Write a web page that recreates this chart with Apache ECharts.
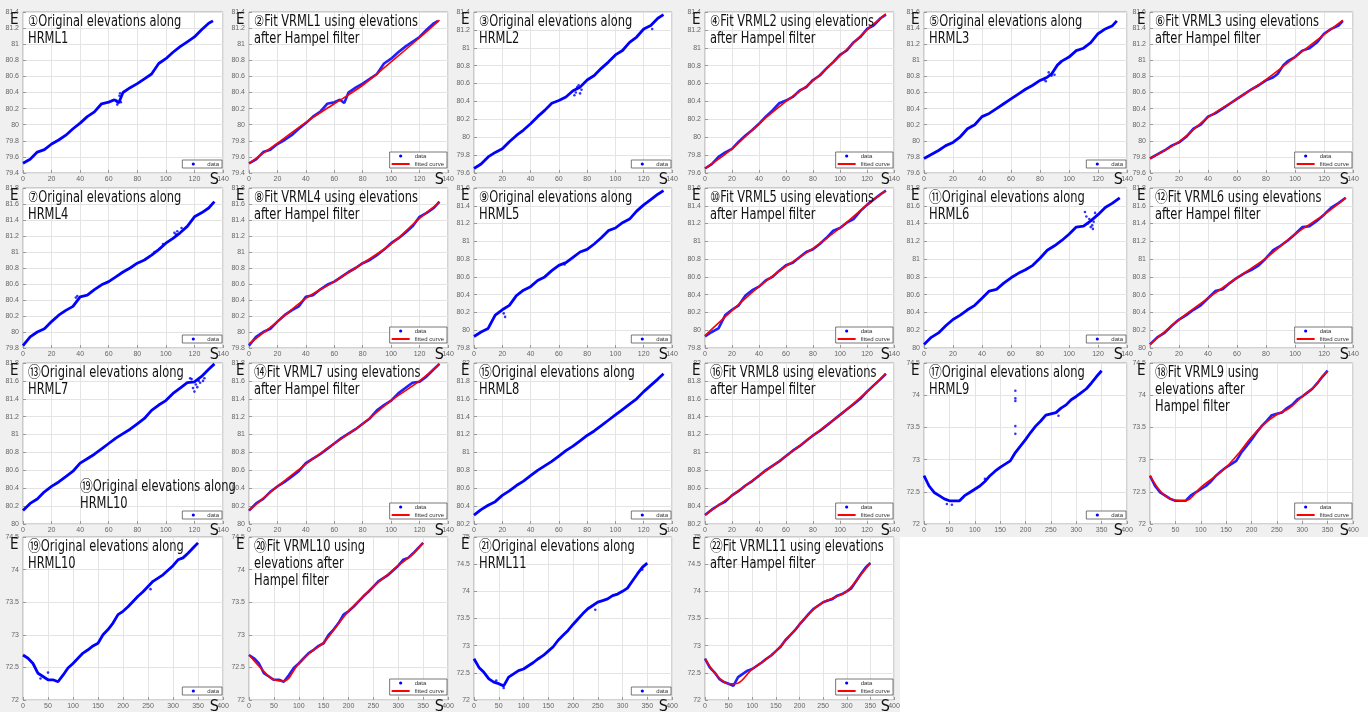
<!DOCTYPE html>
<html>
<head>
<meta charset="utf-8">
<title>Original elevations and fitted curves along HRML / VRML</title>
<script src="https://cdn.jsdelivr.net/npm/echarts@6/dist/echarts.min.js"></script>
<style>
  html, body { margin: 0; padding: 0; background: #fff; }
  #chart { width: 1368px; height: 712px; }
</style>
</head>
<body>
<div id="chart"></div>
<script>
// values: [S, E]
const hrml1 = [[0,79.52],[5,79.57],[10,79.66],[15,79.69],[20,79.76],[25,79.81],[30,79.87],[35,79.95],[40,80.02],[45,80.10],[50,80.16],[55,80.26],[60,80.28],[64,80.31],[67,80.27],[70,80.40],[75,80.46],[80,80.51],[85,80.57],[90,80.63],[95,80.76],[100,80.82],[105,80.90],[110,80.97],[115,81.03],[120,81.09],[125,81.18],[130,81.26],[133,81.29]];
const hrml1Out = [[65.5,80.30],[66,80.25],[67.5,80.36],[68,80.39],[68.5,80.28]];
const hrml2 = [[0,79.65],[5,79.70],[10,79.78],[15,79.83],[20,79.87],[25,79.95],[30,80.02],[35,80.08],[40,80.15],[45,80.23],[50,80.30],[55,80.38],[60,80.41],[65,80.45],[70,80.52],[75,80.56],[80,80.64],[85,80.69],[90,80.77],[95,80.84],[100,80.92],[105,80.97],[110,81.06],[115,81.12],[120,81.21],[125,81.25],[130,81.33],[134,81.37]];
const hrml2Out = [[71,80.47],[72,80.50],[73,80.56],[74,80.58],[75,80.49],[76,80.53],[126,81.21]];
const hrml3 = [[0,79.78],[5,79.83],[10,79.88],[15,79.94],[20,79.98],[25,80.05],[30,80.15],[35,80.20],[40,80.30],[45,80.34],[50,80.40],[55,80.46],[60,80.52],[65,80.58],[70,80.64],[75,80.69],[80,80.75],[85,80.79],[88,80.83],[92,80.94],[95,80.99],[100,81.04],[105,81.12],[110,81.15],[115,81.22],[120,81.33],[125,81.39],[130,81.43],[133,81.49]];
const hrml3Out = [[83,80.76],[84,80.74],[86,80.85],[88,80.81],[90,80.82]];
const hrml4 = [[0,79.83],[5,79.94],[10,80.00],[15,80.04],[20,80.13],[25,80.21],[30,80.27],[35,80.32],[40,80.44],[45,80.46],[50,80.53],[55,80.59],[60,80.63],[65,80.69],[70,80.75],[75,80.80],[80,80.86],[85,80.90],[90,80.96],[95,81.03],[100,81.11],[105,81.17],[110,81.24],[115,81.32],[120,81.44],[125,81.49],[130,81.55],[134,81.63]];
const hrml4Out = [[37,80.43],[38,80.45],[92,81.00],[98,81.10],[106,81.24],[107,81.22],[108,81.26],[111,81.30]];
const hrml5 = [[0,79.93],[5,79.98],[10,80.02],[15,80.17],[20,80.23],[25,80.28],[30,80.39],[35,80.45],[40,80.49],[45,80.56],[50,80.60],[55,80.67],[60,80.73],[65,80.76],[70,80.82],[75,80.88],[80,80.91],[85,80.97],[90,81.04],[95,81.12],[100,81.15],[105,81.21],[110,81.25],[115,81.34],[120,81.41],[125,81.47],[130,81.53],[134,81.57]];
const hrml5Out = [[21,80.19],[22,80.15],[64,80.74]];
const hrml6 = [[0,80.04],[5,80.12],[10,80.17],[15,80.25],[20,80.32],[25,80.37],[30,80.43],[35,80.48],[40,80.56],[45,80.64],[50,80.66],[55,80.73],[60,80.79],[65,80.84],[70,80.88],[75,80.93],[80,81.01],[85,81.10],[90,81.15],[95,81.21],[100,81.28],[105,81.36],[110,81.37],[115,81.43],[120,81.50],[125,81.58],[130,81.63],[135,81.69]];
const hrml6Out = [[111,81.53],[112,81.48],[113,81.40],[114,81.45],[115,81.36],[116,81.38],[116.5,81.34],[117,81.42],[118,81.52]];
const hrml7 = [[0,80.15],[5,80.23],[10,80.28],[15,80.36],[20,80.42],[25,80.47],[30,80.53],[35,80.59],[40,80.68],[45,80.73],[50,80.78],[55,80.84],[60,80.90],[65,80.96],[70,81.01],[75,81.06],[80,81.12],[85,81.18],[90,81.27],[95,81.33],[100,81.38],[105,81.46],[110,81.52],[115,81.58],[120,81.59],[125,81.65],[130,81.73],[134,81.79]];
const hrml7Out = [[117,81.63],[118,81.62],[119,81.52],[120,81.48],[121,81.56],[122,81.53],[123,81.60],[124,81.58],[126,81.60],[127,81.63]];
const hrml8 = [[0,80.30],[5,80.36],[10,80.41],[15,80.45],[20,80.52],[25,80.57],[30,80.63],[35,80.68],[40,80.74],[45,80.80],[50,80.85],[55,80.90],[60,80.96],[65,81.02],[70,81.07],[75,81.13],[80,81.19],[85,81.24],[90,81.30],[95,81.36],[100,81.42],[105,81.48],[110,81.54],[115,81.60],[120,81.68],[125,81.75],[130,81.82],[134,81.88]];
const hrml8Out = [];
const hrml9 = [[0,72.75],[10,72.59],[20,72.49],[30,72.44],[40,72.39],[50,72.36],[60,72.36],[70,72.36],[80,72.44],[90,72.49],[100,72.54],[110,72.59],[120,72.66],[130,72.75],[140,72.82],[150,72.88],[160,72.93],[170,72.98],[180,73.11],[190,73.21],[200,73.31],[210,73.42],[220,73.52],[230,73.60],[240,73.69],[250,73.71],[260,73.73],[270,73.80],[280,73.85],[290,73.93],[300,73.98],[310,74.04],[320,74.10],[330,74.19],[340,74.29],[350,74.38]];
const hrml9Out = [[180,74.07],[180,73.95],[180,73.91],[180,73.52],[180,73.40],[45,72.31],[55,72.30],[120,72.70],[265,73.68]];
const hrml10 = [[0,72.69],[10,72.64],[20,72.56],[30,72.41],[40,72.36],[50,72.31],[60,72.31],[70,72.28],[80,72.38],[90,72.49],[100,72.56],[110,72.64],[120,72.72],[130,72.77],[140,72.83],[150,72.87],[160,73.00],[170,73.08],[180,73.18],[190,73.31],[200,73.36],[210,73.43],[220,73.51],[230,73.59],[240,73.66],[250,73.74],[260,73.82],[270,73.87],[280,73.92],[290,73.99],[300,74.06],[310,74.15],[320,74.18],[330,74.25],[340,74.33],[350,74.41]];
const hrml10Out = [[50,72.42],[35,72.33],[255,73.70]];
const hrml11 = [[0,72.76],[10,72.60],[20,72.51],[30,72.39],[40,72.33],[50,72.30],[60,72.26],[70,72.42],[80,72.48],[90,72.54],[100,72.57],[110,72.63],[120,72.69],[130,72.76],[140,72.82],[150,72.90],[160,72.98],[170,73.10],[180,73.19],[190,73.28],[200,73.39],[210,73.49],[220,73.59],[230,73.68],[240,73.74],[250,73.80],[260,73.83],[270,73.86],[280,73.92],[290,73.95],[300,74.00],[310,74.06],[320,74.19],[330,74.32],[340,74.44],[350,74.52]];
const hrml11Out = [[60,72.22],[45,72.36],[245,73.66],[340,74.40]];

const fit1 = [[0,79.52],[20,79.77],[40,80.03],[60,80.26],[80,80.49],[100,80.78],[120,81.08],[134,81.30]];
const fit2 = [[0,79.65],[20,79.87],[40,80.15],[60,80.40],[80,80.63],[100,80.91],[120,81.20],[134,81.38]];
const fit3 = [[0,79.78],[20,79.99],[40,80.29],[60,80.52],[80,80.76],[100,81.04],[120,81.32],[133,81.50]];
const fit4 = [[0,79.85],[20,80.13],[40,80.42],[60,80.63],[80,80.86],[100,81.10],[120,81.42],[134,81.62]];
const fit5 = [[0,79.94],[20,80.22],[40,80.49],[60,80.72],[80,80.92],[100,81.15],[120,81.41],[134,81.57]];
const fit6 = [[0,80.04],[20,80.32],[40,80.56],[60,80.79],[80,81.01],[100,81.28],[120,81.50],[135,81.69]];
const fit7 = [[0,80.15],[20,80.42],[40,80.67],[60,80.90],[80,81.12],[100,81.38],[120,81.60],[134,81.79]];
const fit8 = [[0,80.30],[20,80.52],[40,80.74],[60,80.96],[80,81.19],[100,81.42],[120,81.68],[134,81.88]];
const fit9 = [[0,72.75],[25,72.47],[50,72.37],[70,72.36],[100,72.57],[125,72.72],[150,72.88],[175,73.10],[200,73.35],[225,73.55],[250,73.70],[275,73.80],[300,73.98],[325,74.14],[340,74.30],[350,74.37]];
const fit10 = [[0,72.69],[25,72.48],[50,72.31],[70,72.29],[100,72.56],[125,72.74],[150,72.88],[175,73.12],[200,73.36],[225,73.55],[250,73.74],[275,73.90],[300,74.06],[325,74.21],[350,74.41]];
const fit11 = [[0,72.76],[25,72.45],[50,72.30],[65,72.30],[100,72.57],[125,72.72],[150,72.90],[175,73.14],[200,73.39],[225,73.63],[250,73.80],[275,73.89],[300,74.00],[325,74.25],[350,74.52]];

const yRanges = [[79.4,81.4],[79.4,81.4],[79.6,81.4],[79.6,81.4],[79.6,81.6],[79.6,81.6],
  [79.8,81.8],[79.8,81.8],[79.8,81.6],[79.8,81.6],[80,81.8],[80,81.8],
  [80,81.8],[80,81.8],[80.2,82],[80.2,82],[72,74.5],[72,74.5],
  [72,74.5],[72,74.5],[72,75],[72,75]];

const panels = [
  { title: '①Original elevations along\nHRML1', data: hrml1, out: hrml1Out },
  { title: '②Fit VRML1 using elevations\nafter Hampel filter', data: hrml1, fit: fit1 },
  { title: '③Original elevations along\nHRML2', data: hrml2, out: hrml2Out },
  { title: '④Fit VRML2 using elevations\nafter Hampel filter', data: hrml2, fit: fit2 },
  { title: '⑤Original elevations along\nHRML3', data: hrml3, out: hrml3Out },
  { title: '⑥Fit VRML3 using elevations\nafter Hampel filter', data: hrml3, fit: fit3 },
  { title: '⑦Original elevations along\nHRML4', data: hrml4, out: hrml4Out },
  { title: '⑧Fit VRML4 using elevations\nafter Hampel filter', data: hrml4, fit: fit4 },
  { title: '⑨Original elevations along\nHRML5', data: hrml5, out: hrml5Out },
  { title: '⑩Fit VRML5 using elevations\nafter Hampel filter', data: hrml5, fit: fit5 },
  { title: '⑪Original elevations along\nHRML6', data: hrml6, out: hrml6Out },
  { title: '⑫Fit VRML6 using elevations\nafter Hampel filter', data: hrml6, fit: fit6 },
  { title: '⑬Original elevations along\nHRML7', data: hrml7, out: hrml7Out },
  { title: '⑭Fit VRML7 using elevations\nafter Hampel filter', data: hrml7, fit: fit7 },
  { title: '⑮Original elevations along\nHRML8', data: hrml8, out: hrml8Out },
  { title: '⑯Fit VRML8 using elevations\nafter Hampel filter', data: hrml8, fit: fit8 },
  { title: '⑰Original elevations along\nHRML9', data: hrml9, out: hrml9Out },
  { title: '⑱Fit VRML9 using\nelevations after\nHampel filter', data: hrml9, fit: fit9 },
  { title: '⑲Original elevations along\nHRML10', data: hrml10, out: hrml10Out },
  { title: '⑳Fit VRML10 using\nelevations after\nHampel filter', data: hrml10, fit: fit10 },
  { title: '㉑Original elevations along\nHRML11', data: hrml11, out: hrml11Out },
  { title: '㉒Fit VRML11 using elevations\nafter Hampel filter', data: hrml11, fit: fit11 }
];

// layout of the sub-plots (pixels)
const colX = [[23,223],[249,448],[474,672],[705,894],[924,1127],[1150,1353]];
const rowY = [[12,173],[188,348],[363,524],[537,700]];
const W = 1368, H = 712;
const FONT = "'Liberation Sans Narrow', 'DejaVu Sans Condensed', 'Noto Sans', 'Noto Sans CJK SC', sans-serif";

const chart = echarts.init(document.getElementById('chart'));

const grid = [], xAxis = [], yAxis = [], series = [], legend = [];
const elements = [
  { type: 'rect', shape: { x: 900, y: 537, width: 468, height: 175 }, style: { fill: '#fff' }, z: -1 }
];

panels.forEach((p, i) => {
  const row = Math.floor(i / 6), col = i % 6;
  const [x1, x2] = colX[col];
  const [y1, y2] = rowY[row];
  const long = i >= 16;
  grid.push({ left: x1, top: y1, width: x2 - x1, height: y2 - y1, show: true,
    backgroundColor: '#fff', borderColor: '#a6a6a6', borderWidth: 1 });
  const axisCommon = {
    gridIndex: i, type: 'value',
    axisLine: { show: false },
    axisTick: { show: true, inside: true, length: 3, lineStyle: { color: '#999' } },
    axisLabel: { fontSize: 7, color: '#666', fontFamily: 'Liberation Sans' },
    splitLine: { show: true, lineStyle: { color: '#e4e4e4', width: 1 } }
  };
  xAxis.push(Object.assign({}, axisCommon, { min: 0, max: long ? 400 : 140, interval: long ? 50 : 20,
    axisLabel: Object.assign({}, axisCommon.axisLabel, { margin: 3 }) }));
  yAxis.push(Object.assign({}, axisCommon, { min: yRanges[i][0], max: yRanges[i][1], interval: long ? 0.5 : 0.2,
    axisLabel: Object.assign({}, axisCommon.axisLabel, { margin: 4 }) }));

  if (p.fit) {
    series.push({ name: 'data', type: 'line', xAxisIndex: i, yAxisIndex: i, data: p.data,
      showSymbol: false, symbol: 'circle', color: '#1f1fff', lineStyle: { width: 2.6, color: '#1f1fff' }, z: 2 });
    series.push({ name: 'fitted curve', type: 'line', xAxisIndex: i, yAxisIndex: i, data: p.fit,
      smooth: 0.35, showSymbol: false, color: '#ff0000', lineStyle: { width: 1.6, color: '#ff0000' }, z: 3 });
  } else {
    series.push({ name: 'data', type: 'line', xAxisIndex: i, yAxisIndex: i, data: p.data,
      showSymbol: false, symbol: 'circle', color: '#0000ff', lineStyle: { width: 2.8, color: '#0000ff' }, z: 2 });
    series.push({ name: 'data', type: 'scatter', xAxisIndex: i, yAxisIndex: i, data: p.out,
      symbolSize: 2.6, itemStyle: { color: '#0000ff' }, z: 2 });
  }

  const items = [{ name: 'data', lineStyle: { opacity: 0 } }];
  if (p.fit) items.push({ name: 'fitted curve', itemStyle: { opacity: 0 } });
  legend.push({
    data: items, orient: 'vertical', selectedMode: false,
    right: W - (x2 - 1), bottom: H - (y2 - 5),
    itemWidth: 18, itemHeight: 4, itemGap: 2, padding: [1, 3, 1, 1],
    backgroundColor: '#fff', borderColor: '#555', borderWidth: 0.8,
    textStyle: { fontSize: 6, color: '#333', fontFamily: 'Liberation Sans' }
  });

  elements.push({ type: 'text', x: x1 + 5, y: y1 + 2, z: 100, scaleX: 0.85,
    style: { text: p.title, fontSize: 15, lineHeight: 17, fontFamily: FONT, fill: '#111' } });
  elements.push({ type: 'text', x: x1 - 13, y: y1 + 1, z: 100,
    style: { text: 'E', fontSize: 15, fontFamily: FONT, fill: '#111' } });
  elements.push({ type: 'text', x: x2 - 4, y: y2 - 1, z: 100,
    style: { text: 'S', fontSize: 16, fontFamily: FONT, fill: '#111', align: 'right', verticalAlign: 'top' } });
});

// stray label pasted inside panel 13
elements.push({ type: 'text', x: 80, y: 479, z: 100, scaleX: 0.85,
  style: { text: '⑲Original elevations along\nHRML10', fontSize: 15, lineHeight: 17, fontFamily: FONT, fill: '#111' } });

chart.setOption({
  backgroundColor: '#f0f0f0',
  animation: false,
  grid, xAxis, yAxis, series, legend,
  graphic: { elements }
});

window.addEventListener('resize', () => chart.resize());
</script>
</body>
</html>
